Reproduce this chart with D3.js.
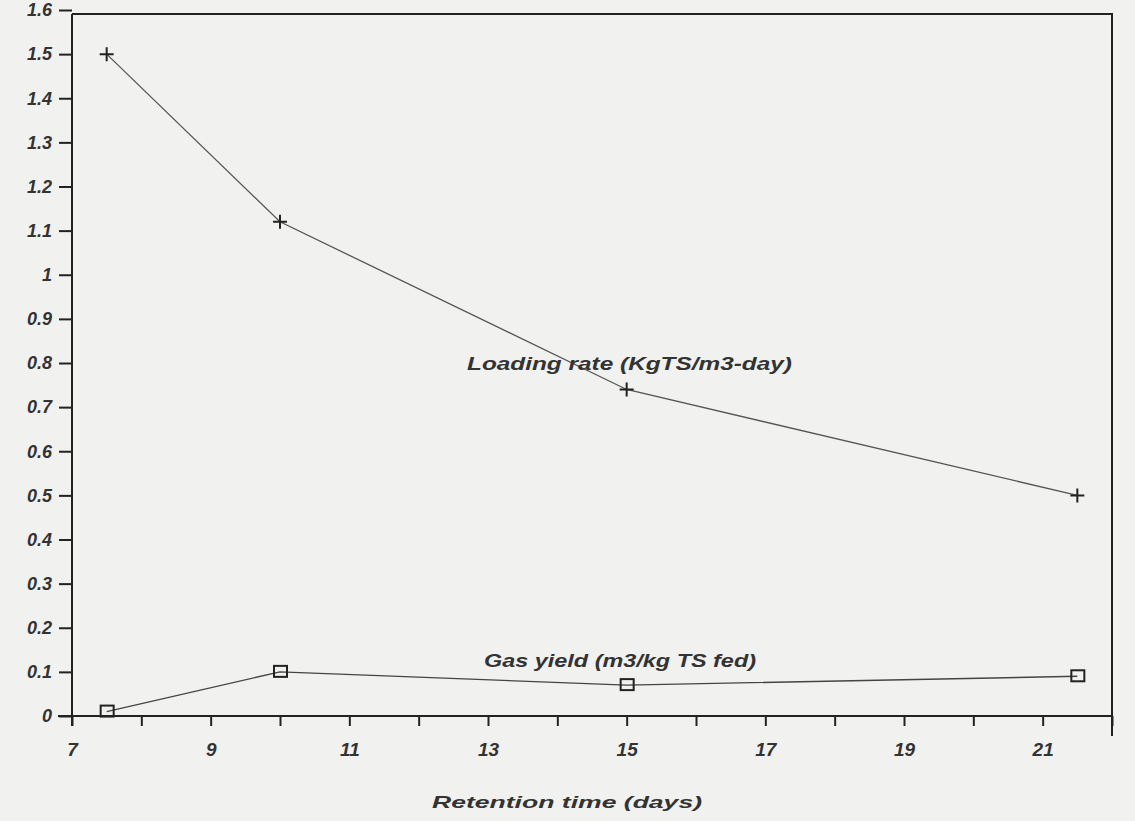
<!DOCTYPE html>
<html>
<head>
<meta charset="utf-8">
<script src="https://cdn.jsdelivr.net/npm/d3@7"></script>
<style>
  body { margin: 0; background: #f1f1ef; }
  svg { display: block; }
  .tick text { font-family: "Liberation Sans", Arial, sans-serif; font-style: italic; font-weight: bold; fill: #333; }
  .lbl { font-family: "Liberation Sans", Arial, sans-serif; font-style: italic; font-weight: bold; fill: #333; }
</style>
</head>
<body>
<div id="chart"></div>
<script>
// retention time (days)
const retentionTime = [7.5, 10, 15, 21.5];
// loading rate (KgTS/m3-day)
const loadingRate = [1.5, 1.12, 0.74, 0.5];
// gas yield (m3/kg TS fed)
const gasYield = [0.01, 0.1, 0.07, 0.09];

const xTicks = d3.range(7, 23);
const xLabels = [7, 9, 11, 13, 15, 17, 19, 21];
const yTicks = d3.range(0, 17).map(i => i / 10);

const width = 1135, height = 821;
const plotLeft = 72, plotRight = 1112, plotTop = 14, plotBottom = 716;

const svg = d3.select("#chart").append("svg").attr("width", width).attr("height", height);

const x = d3.scaleLinear().domain([7, 22]).range([plotLeft, plotRight]);
const y = d3.scaleLinear().domain([0, 1.6]).range([plotBottom, 10]);

// frame: top and right side
svg.append("path")
    .attr("d", `M${plotLeft},${plotTop} L${plotRight},${plotTop} L${plotRight},${plotBottom + 20}`)
    .attr("fill", "none").attr("stroke", "#222").attr("stroke-width", 2);

const yAxis = svg.append("g")
    .attr("transform", `translate(${plotLeft},0)`)
    .call(d3.axisLeft(y).tickValues(yTicks).tickSize(13).tickPadding(7)
        .tickFormat(d => d3.format("~g")(d)));
yAxis.select(".domain").attr("d", `M0,${plotTop}V${plotBottom + 10}`);
yAxis.selectAll("line, path").attr("stroke", "#222").attr("stroke-width", 2);
yAxis.selectAll("text").attr("font-size", 18);

const xAxis = svg.append("g")
    .attr("transform", `translate(0,${plotBottom})`)
    .call(d3.axisBottom(x).tickValues(xTicks).tickSize(10).tickPadding(17)
        .tickFormat(d => xLabels.includes(d) ? d : ""));
xAxis.select(".domain").attr("d", `M${plotLeft - 14},0H${plotRight}`);
xAxis.selectAll("line, path").attr("stroke", "#222").attr("stroke-width", 2);
xAxis.selectAll("text").attr("font-size", 19);

const line = d3.line().x(d => x(d[0])).y(d => y(d[1]));
const loadPts = retentionTime.map((t, i) => [t, loadingRate[i]]);
const gasPts = retentionTime.map((t, i) => [t, gasYield[i]]);

svg.append("path").attr("d", line(loadPts))
    .attr("fill", "none").attr("stroke", "#555").attr("stroke-width", 1.3);
svg.append("path").attr("d", line(gasPts))
    .attr("fill", "none").attr("stroke", "#444").attr("stroke-width", 1.4);

// plus markers
svg.selectAll(".plus").data(loadPts).enter().append("path")
    .attr("class", "plus")
    .attr("d", d => `M${x(d[0]) - 7},${y(d[1])}h14M${x(d[0])},${y(d[1]) - 7}v14`)
    .attr("stroke", "#222").attr("stroke-width", 2);

// square markers
svg.selectAll(".sq").data(gasPts).enter().append("rect")
    .attr("class", "sq")
    .attr("x", d => x(d[0]) - 6).attr("y", d => y(d[1]) - 6)
    .attr("width", 13).attr("height", 11)
    .attr("fill", "none").attr("stroke", "#222").attr("stroke-width", 2);

svg.append("text").attr("class", "lbl")
    .attr("x", 467).attr("y", 370).attr("font-size", 18)
    .attr("textLength", 325).attr("lengthAdjust", "spacingAndGlyphs")
    .text("Loading rate (KgTS/m3-day)");

svg.append("text").attr("class", "lbl")
    .attr("x", 484).attr("y", 667).attr("font-size", 18)
    .attr("textLength", 272).attr("lengthAdjust", "spacingAndGlyphs")
    .text("Gas yield (m3/kg TS fed)");

svg.append("text").attr("class", "lbl")
    .attr("x", 432).attr("y", 808).attr("font-size", 17)
    .attr("textLength", 270).attr("lengthAdjust", "spacingAndGlyphs")
    .text("Retention time (days)");
</script>
</body>
</html>
